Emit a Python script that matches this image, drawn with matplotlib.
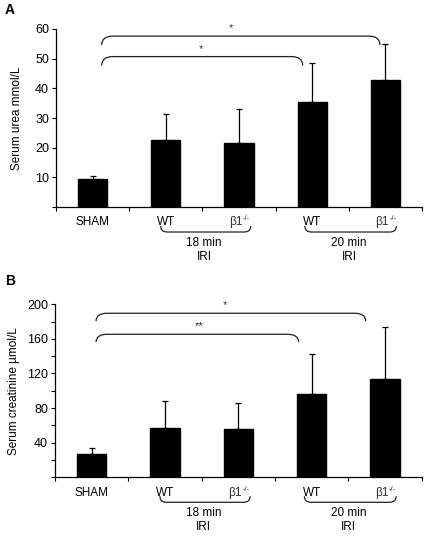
import matplotlib.pyplot as plt
from matplotlib.path import Path
from matplotlib.patches import PathPatch
from matplotlib.ticker import FixedLocator, MultipleLocator
import matplotlib.transforms as mtransforms

plt.rcParams['font.family'] = ['Liberation Sans', 'DejaVu Sans']
plt.rcParams['font.size'] = 8

# data (mean and upper SD)
groups = ['SHAM', 'WT', 'β1', 'WT', 'β1']
knockout = [False, False, True, False, True]
urea = [9.4, 22.6, 21.7, 35.5, 42.8]
urea_err = [1.1, 8.7, 11.2, 13.2, 12.0]
creat = [26.6, 57.0, 55.8, 96.0, 114.0]
creat_err = [7.6, 31.6, 30.2, 46.0, 59.8]

brace_labels = ['18 min\nIRI', '20 min\nIRI']


def bracket(ax, x0, x1, y, dx, dy):
    # horizontal line with both ends bending down
    verts = [(x0, y - dy), (x0, y), (x0 + dx, y),
             (x1 - dx, y),
             (x1, y), (x1, y - dy)]
    codes = [Path.MOVETO, Path.CURVE3, Path.CURVE3,
             Path.LINETO, Path.CURVE3, Path.CURVE3]
    ax.add_patch(PathPatch(Path(verts, codes), fill=False, lw=0.9,
                           edgecolor='#222222', clip_on=False))


def low_brace(ax, x0, x1, label):
    # brace below the x axis, x in data units, y in axes fraction
    h = ax.bbox.height
    tr = mtransforms.blended_transform_factory(ax.transData, ax.transAxes)
    yb = -25 / h
    ye = -19 / h
    dx = 0.09
    verts = [(x0, ye), (x0, yb), (x0 + dx, yb),
             (x1 - dx, yb),
             (x1, yb), (x1, ye)]
    codes = [Path.MOVETO, Path.CURVE3, Path.CURVE3,
             Path.LINETO, Path.CURVE3, Path.CURVE3]
    ax.add_patch(PathPatch(Path(verts, codes), fill=False, lw=0.9,
                           edgecolor='#222222', clip_on=False, transform=tr))
    ax.text((x0 + x1) / 2 - 0.02, -43 / h, label, transform=tr, ha='center',
            va='center', fontsize=8.5, linespacing=1.2)


def group_labels(ax):
    tr = mtransforms.blended_transform_factory(ax.transData, ax.transAxes)
    for i, (g, ko) in enumerate(zip(groups, knockout)):
        if ko:
            ax.annotate(g, (i, 0), xycoords=tr, xytext=(2.5, -11),
                        textcoords='offset points', ha='right', va='center',
                        fontsize=8.5, color='#333333', annotation_clip=False)
            ax.annotate('-/-', (i, 0), xycoords=tr, xytext=(2.8, -8.5),
                        textcoords='offset points', ha='left', va='center',
                        fontsize=5.5, color='#333333', annotation_clip=False)
        else:
            ax.annotate(g, (i, 0), xycoords=tr, xytext=(0, -11),
                        textcoords='offset points', ha='center', va='center',
                        fontsize=8.5, annotation_clip=False)


def setup(ax, vals, errs, ylim, major, minor, ylabel):
    x = range(len(vals))
    ax.bar(x, vals, width=0.4, color='black', edgecolor='black', zorder=2)
    ax.errorbar(x, vals, yerr=[[0] * len(vals), errs], fmt='none',
                ecolor='black', elinewidth=0.9, capsize=2.5, capthick=0.9, zorder=1)
    ax.set_xlim(-0.5, len(vals) - 0.5)
    ax.set_ylim(0, ylim)
    for s in ['top', 'right']:
        ax.spines[s].set_visible(False)
    ax.spines['left'].set_linewidth(0.9)
    ax.spines['bottom'].set_linewidth(0.9)
    ax.xaxis.set_major_locator(FixedLocator([i - 0.5 for i in range(len(vals) + 1)]))
    ax.set_xticklabels([])
    ax.tick_params(axis='x', which='major', direction='out', length=3, width=0.8)
    ax.yaxis.set_major_locator(MultipleLocator(major))
    if minor:
        ax.yaxis.set_minor_locator(MultipleLocator(minor))
        ax.tick_params(axis='y', which='minor', direction='out', length=3, width=0.8)
    ax.tick_params(axis='y', which='major', direction='out', length=3, width=0.8,
                   labelsize=9, pad=2)
    labels = ['' if t == 0 else '%d' % t for t in ax.get_yticks()]
    ax.set_yticks(ax.get_yticks())
    ax.set_yticklabels(labels)
    ax.set_ylim(0, ylim)
    ax.set_ylabel(ylabel, fontsize=8.5)
    group_labels(ax)


fig = plt.figure(figsize=(4.26, 5.37), dpi=100)
axA = fig.add_axes([0.1315, 0.6145, 0.859, 0.3315])
axB = fig.add_axes([0.1291, 0.1112, 0.861, 0.3222])

setup(axA, urea, urea_err, 60, 10, None, 'Serum urea mmol/L')
setup(axB, creat, creat_err, 200, 40, 20, 'Serum creatinine µmol/L')
axA.yaxis.set_label_coords(-0.09, 0.5)
axB.yaxis.set_label_coords(-0.096, 0.5)

# significance brackets
bracket(axA, 0.124, 3.926, 57.6, 0.15, 3.0)
bracket(axA, 0.124, 2.87, 50.7, 0.15, 3.0)
axA.text(1.89, 60.3, '*', ha='center', va='center', fontsize=8, color='#333333')
axA.text(1.48, 53.4, '*', ha='center', va='center', fontsize=8, color='#333333')

bracket(axB, 0.06, 3.735, 189.6, 0.15, 9.0)
bracket(axB, 0.06, 2.82, 165.3, 0.15, 9.0)
axB.text(1.82, 199.5, '*', ha='center', va='center', fontsize=8, color='#333333')
axB.text(1.47, 174.5, '**', ha='center', va='center', fontsize=8, color='#333333')

for ax in (axA, axB):
    low_brace(ax, 0.93, 2.16, brace_labels[0])
    low_brace(ax, 2.90, 4.15, brace_labels[1])

fig.text(0.012, 0.982, 'A', fontsize=10, fontweight='bold', va='center')
fig.text(0.012, 0.477, 'B', fontsize=10, fontweight='bold', va='center')

fig.savefig('out.png', dpi=100)
